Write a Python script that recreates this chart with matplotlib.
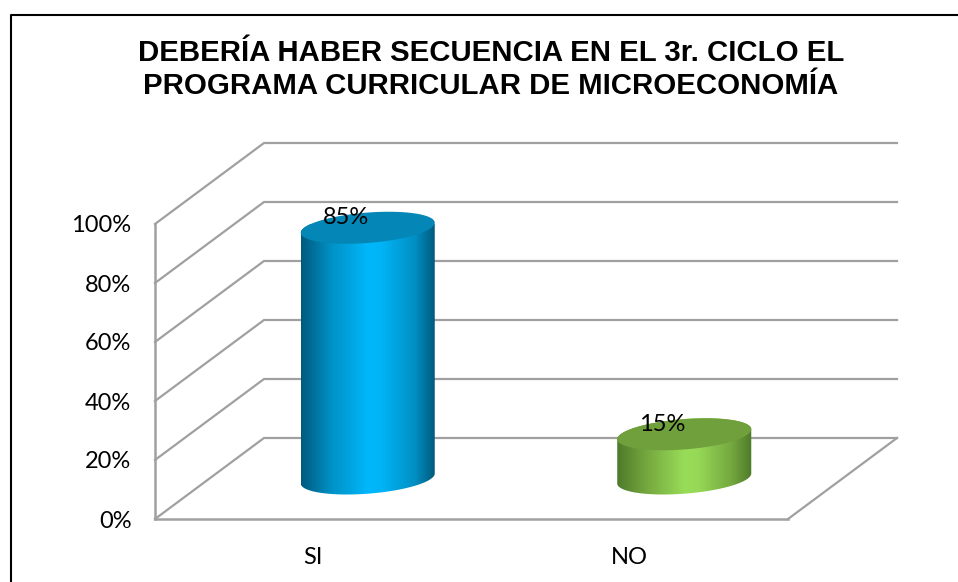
import numpy as np
import matplotlib
matplotlib.use('Agg')
import matplotlib.pyplot as plt
from matplotlib.colors import LinearSegmentedColormap
from matplotlib.lines import Line2D
from matplotlib.patches import Polygon
from matplotlib.ticker import PercentFormatter

title = "DEBERÍA HABER SECUENCIA EN EL 3r. CICLO EL\nPROGRAMA CURRICULAR DE MICROECONOMÍA"
categories = ['SI', 'NO']
values = [0.85, 0.15]
y_ticks = [0, 0.2, 0.4, 0.6, 0.8, 1.0]

side_colors = [['#005a7e', '#0090c4', '#00b7fb', '#00b4f6', '#0090c4', '#005a7c'],
               ['#4d7a2a', '#75a83f', '#98dc58', '#96d956', '#75a83f', '#4d7a2a']]
top_colors = ['#0486b6', '#70a03c']

W, H = 958, 582
GRID = '#a0a0a0'
FONT = 17

fig = plt.figure(figsize=(W / 100, H / 100), dpi=100, facecolor='white')
ax = fig.add_axes([155 / W, (H - 519) / H, 633 / W, 295 / H])
ax.set_xlim(0, len(categories))
ax.set_ylim(0, 1)

# pixel sizes in data units
px = len(categories) / 633
py = 1 / 295
dx, dy = 109 * px, 81 * py

for t in y_ticks:
    ax.plot([0, dx, len(categories) + dx], [t, t + dy, t + dy], color=GRID, lw=1.6,
            clip_on=False, zorder=1, solid_joinstyle='miter')
ax.plot([len(categories), len(categories) + dx], [0, dy], color=GRID, lw=1.6, clip_on=False, zorder=1)

# cylinders stand half way into the floor
a, b, k = 67 * px, 15.2 * py, 5 * py
t = np.linspace(0, 2 * np.pi, 181)
for i, (cat, val) in enumerate(zip(categories, values)):
    cx = i + 0.5 + dx / 2
    y0 = dy / 2
    top = y0 + val

    # body outline: lower half of the base ellipse, then back up along the top
    lo = np.linspace(np.pi, 2 * np.pi, 90)
    xs_lo = cx + a * np.cos(lo)
    ys_lo = y0 + b * np.sin(lo) + k * np.cos(lo)
    up = np.linspace(0, np.pi, 90)
    xs_up = cx + a * np.cos(up)
    ys_up = top + b * np.sin(up) + k * np.cos(up)
    outline = np.column_stack([np.r_[xs_lo, xs_up], np.r_[ys_lo, ys_up]])

    cmap = LinearSegmentedColormap.from_list(
        'side', list(zip([0, 0.22, 0.5, 0.6, 0.85, 1], side_colors[i])))
    im = ax.imshow(np.linspace(0, 1, 256)[None, :], cmap=cmap, aspect='auto',
                   extent=[cx - a, cx + a, y0 - 2 * b, top + 2 * b], zorder=3,
                   interpolation='bilinear')
    clip = Polygon(outline, closed=True, transform=ax.transData, fc='none', ec='none')
    ax.add_patch(clip)
    im.set_clip_path(clip)

    ax.fill(cx + a * np.cos(t), top + b * np.sin(t) + k * np.cos(t), color=top_colors[i],
            lw=0, zorder=4, clip_on=False)
    ax.text(cx - 22 * px, top + 10 * py, '{0:.0%}'.format(val), ha='center', va='center',
            fontsize=FONT, family='Lato', color='black', zorder=5)

ax.set_xlim(0, len(categories))
ax.set_ylim(0, 1)

ax.set_xticks([i + 0.5 for i in range(len(categories))])
ax.set_xticklabels(categories)
ax.set_yticks(y_ticks)
ax.yaxis.set_major_formatter(PercentFormatter(1.0, decimals=0))
ax.tick_params(length=0, labelsize=FONT, labelcolor='black', pad=17)
ax.tick_params(axis='x', pad=20)
for lab in ax.get_xticklabels() + ax.get_yticklabels():
    lab.set_family('Lato')

for s in ('top', 'right'):
    ax.spines[s].set_visible(False)
for s in ('left', 'bottom'):
    ax.spines[s].set_color(GRID)
    ax.spines[s].set_linewidth(1.8)
ax.patch.set_alpha(0)

fig.text(491 / W, 1 - 69.5 / H, title, ha='center', va='center', fontsize=21.2,
         family='Liberation Sans', weight='bold', linespacing=1.22, color='black')

# outer chart border, cut off at the image edge
fig.add_artist(Line2D([11 / W, 11 / W, 1], [0, 1 - 15 / H, 1 - 15 / H], color='black', lw=1.5))

fig.savefig('out.png', dpi=100)
